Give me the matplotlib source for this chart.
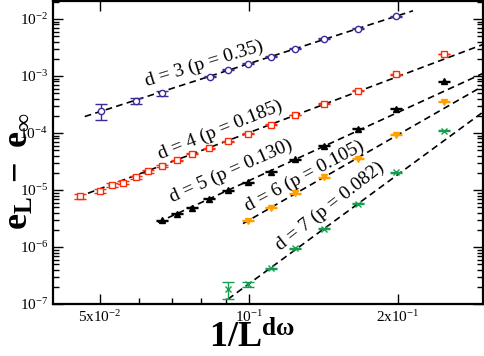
import numpy as np
import matplotlib
matplotlib.use("Agg")
import matplotlib.pyplot as plt
from matplotlib.ticker import FixedLocator, LogLocator, NullFormatter

plt.rcParams['font.family'] = ['Liberation Serif', 'DejaVu Serif']
plt.rcParams['mathtext.fontset'] = 'custom'
plt.rcParams['mathtext.rm'] = 'Liberation Serif'
plt.rcParams['mathtext.it'] = 'Liberation Serif:italic'
plt.rcParams['mathtext.bf'] = 'Liberation Serif:bold'
plt.rcParams['mathtext.default'] = 'regular'

# x = 1/L^(d*omega), shared grid of sizes
xs = [0.0456, 0.0500, 0.0528, 0.0557, 0.0591, 0.0624, 0.0667, 0.0715, 0.0768,
      0.0832, 0.0908, 0.0998, 0.1110, 0.1241, 0.1421, 0.1661, 0.1986, 0.2477]

x3 = [0.0502, 0.0591, 0.0669, 0.0834, 0.0907, 0.0998, 0.1110, 0.1241, 0.1421, 0.1661, 0.1986]
y3 = [2.47e-4, 3.68e-4, 4.94e-4, 9.68e-4, 1.28e-3, 1.63e-3, 2.17e-3, 2.99e-3, 4.47e-3, 6.68e-3, 1.107e-2]
e3 = [7.6e-5, 4.4e-5, 4.0e-5, 2e-5, 2.5e-5, 3e-5, 4e-5, 6e-5, 9e-5, 1.3e-4, 2.2e-4]

x4 = xs
y4 = [7.73e-6, 9.57e-6, 1.21e-5, 1.35e-5, 1.68e-5, 2.11e-5, 2.66e-5, 3.29e-5, 4.31e-5,
      5.40e-5, 7.16e-5, 9.64e-5, 1.385e-4, 2.07e-4, 3.27e-4, 5.51e-4, 1.062e-3, 2.415e-3]
e4 = [8.5e-7, 8e-7, 9e-7, 9e-7, 1.0e-6, 1.0e-6, 1.0e-6, 1.0e-6, 1.0e-6,
      1.2e-6, 1.5e-6, 2e-6, 2.5e-6, 3.5e-6, 5e-6, 8e-6, 1.5e-5, 3e-5]

x5 = xs[6:]
y5 = [2.94e-6, 3.85e-6, 4.90e-6, 7.05e-6, 9.84e-6, 1.374e-5, 2.089e-5, 3.43e-5,
      6.02e-5, 1.179e-4, 2.637e-4, 8.01e-4]
e5 = [6e-8, 8e-8, 1e-7, 1.4e-7, 2e-7, 2.7e-7, 4e-7, 7e-7, 1.2e-6, 2.4e-6, 5e-6, 1.6e-5]

x6 = xs[11:]
y6 = [2.86e-6, 4.90e-6, 8.83e-6, 1.681e-5, 3.524e-5, 9.30e-5, 3.54e-4]
e6 = [6e-8, 1e-7, 1.8e-7, 3.4e-7, 7e-7, 1.9e-6, 7e-6]

x7 = xs[10:]
y7 = [1.83e-7, 2.20e-7, 4.21e-7, 9.41e-7, 2.106e-6, 5.76e-6, 2.056e-5, 1.101e-4]
e7 = [6.2e-8, 2.5e-8, 8e-9, 2e-8, 4e-8, 1.2e-7, 4e-7, 2.2e-6]

# power-law fits  y = A * x**s
fit_amp = [1.03, 0.189, 0.139, 0.279, 0.530]
fit_exp = [2.797, 3.271, 3.98, 4.976, 6.37]
fit_xmin = [0.0466, 0.0451, 0.0655, 0.0973, 0.0907]
fit_xmax = [0.2145, 0.30, 0.30, 0.30, 0.30]

labels = ['d = 3 (p = 0.35)', 'd = 4 (p = 0.185)', 'd = 5 (p = 0.130)',
          'd = 6 (p = 0.105)', 'd = 7 (p = 0.082)']
label_pos = [(0.0811, 1.63e-3), (0.0874, 1.10e-4), (0.0922, 2.11e-5),
             (0.1297, 1.73e-5), (0.1458, 5.16e-6)]
label_rot = [17, 22, 24, 28, 38]

series = [(x3, y3, e3, 'o', '#3b2b9b', 'white'),
          (x4, y4, e4, 's', '#ff2a0a', 'white'),
          (x5, y5, e5, '^', 'black', 'black'),
          (x6, y6, e6, 'v', '#ffa000', '#ffa000'),
          (x7, y7, e7, 'x', '#12a050', '#12a050')]

fig = plt.figure(figsize=(4.84, 3.56), dpi=100)
ax = fig.add_axes([53/484, 1-304/356, 430/484, 303/356])

for i, (x, y, e, m, c, fc) in enumerate(series):
    xf = np.geomspace(fit_xmin[i], fit_xmax[i], 50)
    ax.plot(xf, fit_amp[i]*xf**fit_exp[i], color='black', lw=1.2,
            linestyle=(0, (4, 2.6)), zorder=2)
    ax.errorbar(x, y, yerr=e, fmt=m, color=c, mfc=fc, mec=c, ms=4.5,
                mew=1.0, elinewidth=1.0, capsize=4, capthick=1.0, zorder=3)
    ax.text(*label_pos[i], labels[i], rotation=label_rot[i], fontsize=14,
            ha='center', va='center', rotation_mode='anchor')

ax.set_xscale('log')
ax.set_yscale('log')
ax.set_xlim(0.0402, 0.2971)
ax.set_ylim(1e-7, 0.02064)

ax.xaxis.set_major_locator(FixedLocator([0.05, 0.1, 0.2]))
ax.set_xticklabels(['5x10$^{-2}$', '10$^{-1}$', '2x10$^{-1}$'])
ax.xaxis.set_minor_locator(FixedLocator([0.06, 0.07, 0.08, 0.09]))
ax.xaxis.set_minor_formatter(NullFormatter())

ydec = [1e-7, 1e-6, 1e-5, 1e-4, 1e-3, 1e-2]
ax.yaxis.set_major_locator(FixedLocator(ydec))
ax.set_yticklabels(['10$^{-%d}$' % k for k in [7, 6, 5, 4, 3, 2]])
ax.yaxis.set_minor_locator(LogLocator(base=10, subs=np.arange(2, 10), numticks=20))
ax.yaxis.set_minor_formatter(NullFormatter())

ax.tick_params(which='both', direction='in', top=True, right=True, labelsize=11, width=1)
ax.tick_params(which='major', length=7)
ax.tick_params(which='minor', length=4)
ax.tick_params(axis='x', which='minor', top=False)
for s in ax.spines.values():
    s.set_linewidth(1.6)

fig.text(252/484, 1-338/356, r'1/L$^{\mathbf{d\omega}}$', fontsize=26,
         fontweight='bold', ha='center', va='center')
fig.text(19/484, 1-171/356, r'$\mathbf{e_L\ -\ e_\infty}$', fontsize=26,
         rotation=90, ha='center', va='center')

fig.savefig('out.png', dpi=100)
